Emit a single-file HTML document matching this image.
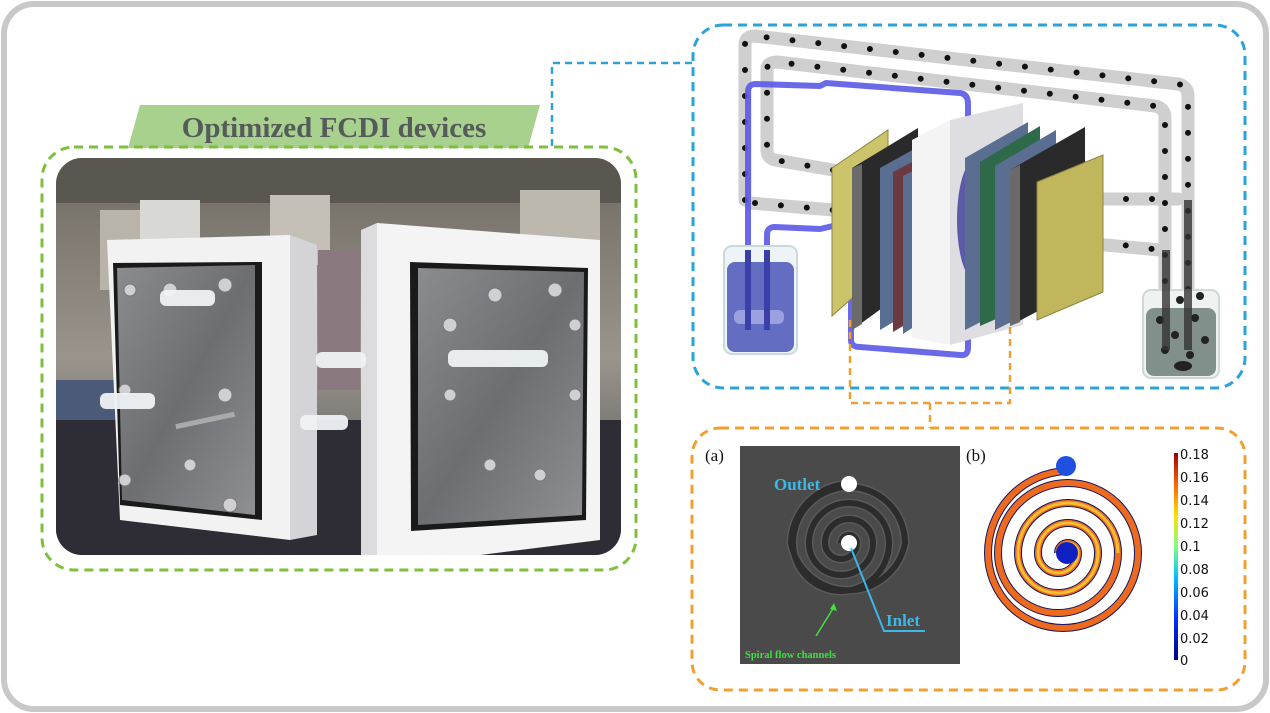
<!DOCTYPE html>
<html><head><meta charset="utf-8"><style>
html,body{margin:0;padding:0;background:#fff;}
svg{display:block;font-family:"Liberation Serif",serif;}
</style></head><body>
<svg width="1270" height="713" viewBox="0 0 1270 713" xmlns="http://www.w3.org/2000/svg">
<defs>
<clipPath id="ph"><rect x="56" y="158" width="565" height="397" rx="26"/></clipPath>
<linearGradient id="bg" x1="0" y1="0" x2="0" y2="1"><stop offset="0" stop-color="#6f6a62"/><stop offset="0.5" stop-color="#9a958c"/><stop offset="1" stop-color="#4a4850"/></linearGradient>
<linearGradient id="metal" x1="0" y1="0" x2="1" y2="1"><stop offset="0" stop-color="#8a8c90"/><stop offset="0.5" stop-color="#6c6e72"/><stop offset="1" stop-color="#8e9094"/></linearGradient>
<linearGradient id="cb" x1="0" y1="1" x2="0" y2="0"><stop offset="0" stop-color="#000080"/><stop offset="0.2" stop-color="#0030ff"/><stop offset="0.4" stop-color="#00c0ff"/><stop offset="0.55" stop-color="#80ff80"/><stop offset="0.7" stop-color="#ffe000"/><stop offset="0.85" stop-color="#ff6000"/><stop offset="1" stop-color="#a00000"/></linearGradient>
</defs>
<rect x="4" y="4" width="1262" height="705" rx="30" fill="#fff" stroke="#c8c8c8" stroke-width="6"/>

<path d="M552 146 L552 63 L693 63" fill="none" stroke="#2aa3d8" stroke-width="2.5" stroke-dasharray="7 5"/>
<polygon points="140,105 540,105 528,148 128,148" fill="#a9d18e"/>
<text x="334" y="137" text-anchor="middle" font-size="29" font-weight="bold" fill="#555a5a">Optimized FCDI devices</text>
<rect x="42" y="147" width="594" height="423" rx="32" fill="none" stroke="#7fbf3f" stroke-width="3" stroke-dasharray="9 6"/>
<g clip-path="url(#ph)">
<rect x="56" y="158" width="565" height="397" fill="url(#bg)"/>
<rect x="56" y="158" width="565" height="45" fill="#5a5750"/>
<rect x="100" y="210" width="60" height="80" fill="#b8b4aa"/>
<rect x="140" y="200" width="60" height="60" fill="#d8d8d4"/>
<rect x="270" y="195" width="60" height="70" fill="#c4c0b8"/>
<rect x="520" y="190" width="80" height="80" fill="#bdb8ae"/>
<rect x="56" y="420" width="565" height="135" fill="#2e2c34"/>
<rect x="56" y="380" width="60" height="40" fill="#4a5a78"/>
<polygon points="290,235 317,245 317,535 290,540" fill="#d4d4d8"/>
<polygon points="107,240 290,235 290,540 120,520" fill="#f2f2f2"/>
<polygon points="113,263 262,262 262,520 120,505" fill="#1a1a1a"/>
<polygon points="117,268 255,265 255,515 122,500" fill="url(#metal)"/>
<polygon points="361,230 377,223 377,568 361,560" fill="#dcdcde"/>
<polygon points="377,223 600,240 600,540 377,568" fill="#f4f4f4"/>
<polygon points="410,262 588,268 586,520 411,531" fill="#1a1a1a"/>
<polygon points="418,268 584,272 582,515 418,525" fill="url(#metal)"/>
<rect x="318" y="250" width="42" height="140" fill="#8a7a80"/>
<g fill="#d0d0d2" stroke="#777" stroke-width="1">
<circle cx="130" cy="290" r="6"/><circle cx="170" cy="290" r="7"/><circle cx="225" cy="285" r="7"/>
<circle cx="125" cy="390" r="6"/><circle cx="225" cy="395" r="7"/>
<circle cx="125" cy="480" r="6"/><circle cx="190" cy="465" r="6"/><circle cx="230" cy="505" r="7"/>
<circle cx="495" cy="295" r="7"/><circle cx="555" cy="290" r="7"/><circle cx="450" cy="325" r="7"/><circle cx="575" cy="325" r="6"/>
<circle cx="450" cy="395" r="6"/><circle cx="575" cy="395" r="6"/><circle cx="490" cy="465" r="6"/><circle cx="540" cy="475" r="6"/>
</g>
<g fill="#eef2f4" opacity="0.95">
<rect x="160" y="290" width="55" height="16" rx="6"/>
<rect x="100" y="393" width="55" height="16" rx="6"/>
<rect x="316" y="352" width="50" height="16" rx="6"/>
<rect x="300" y="415" width="48" height="15" rx="6"/>
<rect x="448" y="350" width="100" height="17" rx="6"/>
</g>
<rect x="175" y="418" width="60" height="5" fill="#aaa" transform="rotate(-12 205 420)"/>
</g>

<rect x="693" y="25" width="552" height="363" rx="30" fill="none" stroke="#2aa3d8" stroke-width="3" stroke-dasharray="9 6"/>

<g fill="none" stroke-linejoin="round" stroke-linecap="round">
<g stroke="#cfcfcf" stroke-width="13">
<path d="M745 200 L745 45 Q745 36 755 36 L1178 84 Q1188 86 1188 96 L1188 330"/>
<path d="M833 170 L775 160 Q767 158 767 150 L767 70 Q767 62 777 62 L1155 106 Q1165 108 1165 118 L1165 330"/>
<path d="M750 203 L833 210"/>
<path d="M1073 199 L1178 199"/>
<path d="M1073 242 L1160 250"/>
</g>
<g stroke="#111" stroke-width="6" stroke-dasharray="0 26">
<path d="M745 200 L745 45 Q745 36 755 36 L1178 84 Q1188 86 1188 96 L1188 330"/>
<path d="M833 170 L775 160 Q767 158 767 150 L767 70 Q767 62 777 62 L1155 106 Q1165 108 1165 118 L1165 330"/>
<path d="M755 203 L833 210"/>
<path d="M1100 199 L1178 199"/>
<path d="M1100 242 L1160 250"/>
</g>
<g stroke="#5a5ae6" stroke-width="6" opacity="0.9">
<path d="M748 305 L748 92 Q748 84 756 84 L820 86 L826 83 L960 93 Q968 94 968 104 L968 132"/>
<path d="M767 305 L767 235 Q767 227 775 227 L820 229 L833 226"/>
<path d="M851 300 L851 340 Q851 347 860 347 L960 355 Q968 356 968 348 L968 325"/>
</g>
</g>
<rect x="724" y="246" width="73" height="108" rx="8" fill="#eef4f6" stroke="#c8dadf" stroke-width="2"/>
<rect x="727" y="262" width="67" height="90" rx="8" fill="#4a55b8" opacity="0.85"/>
<rect x="734" y="310" width="50" height="14" rx="6" fill="#9aa0e0"/>
<rect x="745" y="250" width="6" height="80" fill="#3a40a8"/>
<rect x="764" y="250" width="6" height="80" fill="#3a40a8"/>
<rect x="1143" y="290" width="76" height="88" rx="8" fill="#eef2f0" stroke="#cfd8d6" stroke-width="2"/>
<rect x="1146" y="308" width="70" height="68" rx="8" fill="#6f7f7a" opacity="0.85"/>
<g fill="#222"><circle cx="1160" cy="320" r="4"/><circle cx="1175" cy="335" r="4"/><circle cx="1195" cy="318" r="4"/><circle cx="1205" cy="340" r="4"/><circle cx="1165" cy="350" r="4"/><circle cx="1190" cy="355" r="4"/><circle cx="1180" cy="300" r="4"/><circle cx="1200" cy="296" r="4"/><ellipse cx="1183" cy="366" rx="9" ry="5"/></g>
<rect x="1162" y="250" width="8" height="100" fill="#333" opacity="0.8"/>
<rect x="1184" y="200" width="8" height="150" fill="#333" opacity="0.8"/>

<polygon points="832,168 888,130 888,266 832,316" fill="#cbc46a" stroke="#8a8440"/>
<polygon points="852,168 918,128 918,282 852,330" fill="#2a2a2a"/>
<polygon points="852,168 862,164 862,324 852,330" fill="#6a6a6a"/>
<polygon points="880,168 943,133 943,292 880,330" fill="#5a6e92"/>
<polygon points="893,172 950,142 950,298 893,332" fill="#6a3a40"/>
<polygon points="903,176 955,150 955,300 903,334" fill="#5a6e92"/>
<polygon points="950,120 1023,103 1023,325 950,345" fill="#dedee2"/>
<ellipse cx="975" cy="220" rx="18" ry="60" fill="#3a3a9a" opacity="0.8"/>
<polygon points="912,140 950,120 950,345 912,338" fill="#f4f4f4"/>
<polygon points="965,158 1028,122 1028,298 965,330" fill="#5a6e92"/>
<polygon points="980,162 1040,126 1040,300 980,326" fill="#2e6a4a"/>
<polygon points="995,166 1056,130 1056,300 995,330" fill="#5a6e92"/>
<polygon points="1010,170 1085,127 1085,286 1010,326" fill="#2a2a2a"/>
<polygon points="1010,170 1020,165 1020,322 1010,326" fill="#6a6a6a"/>
<polygon points="1037,182 1103,155 1103,292 1037,320" fill="#c2b65c" stroke="#8a8440"/>

<g fill="none" stroke="#f0a030" stroke-width="2.5" stroke-dasharray="7 5">
<path d="M850 320 L850 403 L1010 403 L1010 322"/>
<path d="M930 403 L930 428"/>
</g>
<rect x="692" y="428" width="553" height="262" rx="28" fill="none" stroke="#f0a030" stroke-width="3" stroke-dasharray="9 6"/>

<!-- (a) -->
<text x="705" y="461" font-size="17" fill="#111">(a)</text>
<rect x="740" y="446" width="220" height="218" fill="#4a4a4a"/>
<g fill="none">
<path d="M841 543 A8 8 0 0 1 857 543 A16 16 0 0 1 825 543 A24 24 0 0 1 873 543 A32 32 0 0 1 809 543 A40 40 0 0 1 889 543 A48 48 0 0 1 793 543 A56 56 0 0 1 905 543 A58 58 0 0 1 791 543 A60 60 0 0 1 849 484" stroke="#5a5a5a" stroke-width="9"/>
<path d="M841 543 A8 8 0 0 1 857 543 A16 16 0 0 1 825 543 A24 24 0 0 1 873 543 A32 32 0 0 1 809 543 A40 40 0 0 1 889 543 A48 48 0 0 1 793 543 A56 56 0 0 1 905 543 A58 58 0 0 1 791 543 A60 60 0 0 1 849 484" stroke="#2c2c2c" stroke-width="6"/>
</g>
<circle cx="849" cy="484" r="8" fill="#fff"/>
<circle cx="849" cy="543" r="8" fill="#fff"/>
<text x="774" y="490" font-size="17" font-weight="bold" fill="#3ab8e8">Outlet</text>
<path d="M851 548 L884 631 L925 631" fill="none" stroke="#3ab8e8" stroke-width="2"/>
<text x="886" y="626" font-size="17" font-weight="bold" fill="#3ab8e8">Inlet</text>
<path d="M816 636 L834 607" stroke="#40e040" stroke-width="1.5"/>
<polygon points="834,603 837,611 830,609" fill="#40e040"/>
<text x="745" y="658" font-size="10.5" font-weight="bold" fill="#40e040">Spiral flow channels</text>

<!-- (b) -->
<text x="966" y="461" font-size="17" fill="#111">(b)</text>
<g fill="none">
<path id="spb" d="M1058 553 A10 10 0 0 1 1078 553 A20 20 0 0 1 1038 553 A30 30 0 0 1 1098 553 A40 40 0 0 1 1018 553 A50 50 0 0 1 1118 553 A60 60 0 0 1 998 553 A70 70 0 0 1 1138 553 A75 75 0 0 1 988 553 A82 82 0 0 1 1066 471" stroke="#101860" stroke-width="8"/>
<path d="M1058 553 A10 10 0 0 1 1078 553 A20 20 0 0 1 1038 553 A30 30 0 0 1 1098 553 A40 40 0 0 1 1018 553 A50 50 0 0 1 1118 553 A60 60 0 0 1 998 553 A70 70 0 0 1 1138 553 A75 75 0 0 1 988 553 A82 82 0 0 1 1066 471" stroke="#ee6a1e" stroke-width="6"/>
<path d="M1058 553 A10 10 0 0 1 1078 553 A20 20 0 0 1 1038 553 A30 30 0 0 1 1098 553 A40 40 0 0 1 1018 553 A50 50 0 0 1 1118 553" stroke="#f8c030" stroke-width="3"/>
</g>
<circle cx="1066" cy="466" r="10" fill="#2050e0"/>
<circle cx="1067" cy="553" r="11" fill="#1020c0"/>
<rect x="1174" y="453" width="4" height="207" fill="url(#cb)"/>
<g font-family="DejaVu Sans, sans-serif" font-size="13" fill="#111">
<text x="1180" y="459">0.18</text><text x="1180" y="482">0.16</text><text x="1180" y="505">0.14</text><text x="1180" y="528">0.12</text><text x="1180" y="551">0.1</text><text x="1180" y="574">0.08</text><text x="1180" y="597">0.06</text><text x="1180" y="620">0.04</text><text x="1180" y="643">0.02</text><text x="1180" y="665">0</text>
</g>
</svg>
</body></html>
